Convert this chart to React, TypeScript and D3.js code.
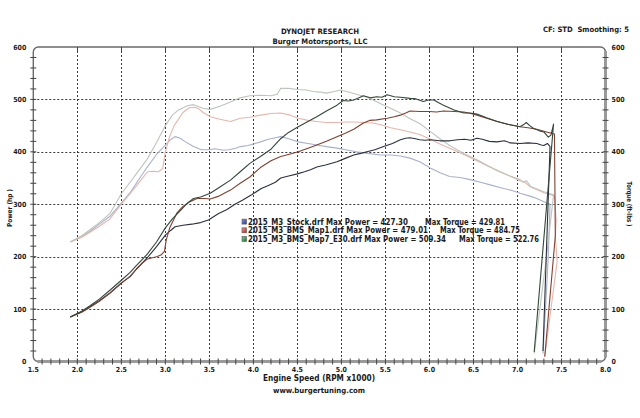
import React, { useEffect, useRef } from "react"
import * as d3 from "d3"

// rpm (x1000) and readings for each run
const stockPowerRpm = [1.92, 2.05, 2.14, 2.25, 2.37, 2.5, 2.6, 2.67, 2.79, 2.9, 3.0, 3.06, 3.11, 3.2, 3.3, 3.4, 3.49, 3.6, 3.7, 3.79, 3.88, 3.98, 4.09, 4.17, 4.25, 4.31, 4.4, 4.5, 4.58, 4.65, 4.72, 4.82, 4.95, 5.05, 5.14, 5.22, 5.29, 5.38, 5.48, 5.58, 5.67, 5.73, 5.78, 5.84, 5.89, 5.95, 6.01, 6.12, 6.23, 6.32, 6.4, 6.47, 6.54, 6.6, 6.68, 6.77, 6.85, 6.92, 7.03, 7.12, 7.22, 7.27, 7.3, 7.34, 7.37, 7.29]
const stockPower = [85, 95, 104, 116, 131, 150, 162, 176, 197, 219, 241, 250, 257, 260, 262, 265, 270, 282, 290, 300, 308, 318, 330, 336, 342, 350, 354, 358, 362, 366, 371, 375, 381, 388, 394, 397, 400, 404, 410, 416, 423, 426, 427, 425, 423, 422, 423, 421, 421, 423, 424, 422, 426, 424, 420, 419, 421, 417, 416, 417, 416, 413, 412, 416, 410, 20]

const map1PowerRpm = [1.92, 2.05, 2.14, 2.25, 2.37, 2.5, 2.6, 2.67, 2.74, 2.79, 2.83, 2.9, 2.95, 2.99, 3.01, 3.05, 3.13, 3.2, 3.28, 3.36, 3.45, 3.51, 3.6, 3.68, 3.74, 3.85, 3.96, 4.08, 4.2, 4.31, 4.42, 4.51, 4.62, 4.72, 4.83, 4.95, 5.05, 5.14, 5.25, 5.32, 5.4, 5.52, 5.6, 5.67, 5.73, 5.78, 5.89, 6.0, 6.08, 6.16, 6.28, 6.39, 6.47, 6.54, 6.65, 6.77, 6.9, 7.03, 7.12, 7.22, 7.33, 7.42, 7.43, 7.31]
const map1Power = [85, 94, 103, 115, 130, 149, 163, 176, 188, 195, 197, 200, 203, 210, 232, 255, 283, 296, 305, 311, 311, 310, 315, 322, 327, 340, 352, 370, 383, 391, 396, 400, 407, 413, 420, 429, 436, 443, 455, 460, 461, 464, 467, 470, 474, 478, 477, 477, 476, 478, 477, 476, 473, 470, 464, 458, 452, 448, 446, 443, 438, 434, 240, 9]

const e30PowerRpm = [1.92, 2.05, 2.14, 2.25, 2.37, 2.5, 2.6, 2.67, 2.79, 2.9, 3.0, 3.08, 3.17, 3.25, 3.32, 3.4, 3.51, 3.62, 3.74, 3.85, 3.96, 4.08, 4.2, 4.31, 4.4, 4.51, 4.62, 4.72, 4.83, 4.95, 5.02, 5.08, 5.14, 5.2, 5.25, 5.33, 5.4, 5.46, 5.52, 5.6, 5.67, 5.78, 5.85, 5.93, 5.99, 6.05, 6.1, 6.16, 6.28, 6.39, 6.46, 6.54, 6.65, 6.77, 6.9, 7.03, 7.07, 7.1, 7.14, 7.18, 7.25, 7.3, 7.35, 7.38, 7.41, 7.19]
const e30Power = [85, 96, 106, 119, 136, 155, 170, 183, 204, 228, 255, 272, 288, 302, 311, 314, 321, 333, 346, 362, 378, 391, 405, 425, 437, 448, 458, 467, 478, 489, 498, 497, 499, 503, 507, 503, 505, 504, 509, 505, 504, 502, 501, 496, 499, 499, 494, 489, 480, 474, 474, 472, 465, 458, 452, 448, 452, 456, 450, 445, 440, 438, 428, 432, 453, 18]

const stockTorqueRpm = [1.92, 2.05, 2.14, 2.25, 2.37, 2.5, 2.6, 2.67, 2.79, 2.9, 3.0, 3.05, 3.11, 3.17, 3.22, 3.32, 3.41, 3.5, 3.56, 3.66, 3.72, 3.8, 3.85, 3.94, 4.02, 4.08, 4.17, 4.25, 4.31, 4.4, 4.51, 4.62, 4.72, 4.83, 4.95, 5.05, 5.17, 5.3, 5.44, 5.56, 5.67, 5.78, 5.89, 6.01, 6.12, 6.23, 6.35, 6.46, 6.58, 6.69, 6.8, 6.92, 7.03, 7.15, 7.22, 7.3, 7.37, 7.35, 7.29]
const stockTorque = [228, 238, 248, 262, 277, 302, 322, 340, 370, 395, 413, 422, 429, 426, 420, 410, 404, 404, 406, 403, 404, 407, 410, 412, 416, 419, 424, 427, 429, 425, 419, 416, 413, 410, 407, 404, 400, 397, 394, 394, 392, 388, 381, 369, 360, 353, 351, 347, 342, 337, 332, 327, 321, 315, 311, 305, 300, 200, 15]

const map1TorqueRpm = [1.92, 2.05, 2.14, 2.25, 2.37, 2.5, 2.6, 2.67, 2.74, 2.77, 2.8, 2.86, 2.92, 2.97, 3.0, 3.05, 3.1, 3.2, 3.27, 3.33, 3.38, 3.43, 3.51, 3.62, 3.74, 3.85, 3.96, 4.08, 4.2, 4.31, 4.42, 4.51, 4.62, 4.72, 4.83, 4.95, 5.05, 5.15, 5.25, 5.35, 5.44, 5.56, 5.67, 5.78, 5.89, 6.0, 6.12, 6.23, 6.39, 6.54, 6.65, 6.77, 6.9, 7.03, 7.09, 7.15, 7.3, 7.42, 7.44, 7.43, 7.45, 7.31]
const map1Torque = [228, 237, 246, 258, 272, 300, 320, 335, 350, 356, 362, 363, 362, 368, 400, 430, 450, 475, 484, 485, 482, 475, 467, 462, 458, 464, 466, 470, 473, 474, 470, 464, 460, 458, 456, 456, 457, 457, 456, 455, 452, 446, 442, 438, 433, 425, 415, 407, 395, 383, 374, 364, 355, 345, 341, 333, 322, 316, 270, 240, 190, 10]

const e30TorqueRpm = [1.92, 2.05, 2.14, 2.25, 2.37, 2.5, 2.6, 2.67, 2.79, 2.9, 3.0, 3.08, 3.15, 3.25, 3.32, 3.38, 3.43, 3.51, 3.62, 3.74, 3.85, 3.96, 4.08, 4.2, 4.27, 4.31, 4.4, 4.5, 4.6, 4.68, 4.76, 4.83, 4.92, 4.99, 5.08, 5.17, 5.27, 5.36, 5.44, 5.52, 5.6, 5.67, 5.78, 5.89, 6.0, 6.12, 6.23, 6.39, 6.54, 6.67, 6.77, 6.9, 7.03, 7.07, 7.1, 7.15, 7.3, 7.41, 7.33, 7.19]
const e30Torque = [228, 240, 251, 265, 282, 320, 342, 358, 385, 418, 450, 470, 480, 488, 490, 486, 483, 481, 487, 495, 503, 507, 508, 507, 510, 521, 521, 519, 518, 515, 514, 512, 515, 518, 514, 510, 505, 499, 492, 486, 480, 474, 463, 454, 440, 425, 412, 397, 385, 373, 365, 355, 347, 342, 345, 334, 324, 318, 200, 15]

const runNames = ["2015_M3_Stock.drf", "2015_M3_BMS_Map1.drf", "2015_M3_BMS_Map7_E30.drf"]
const maxPower = ["427.30", "479.01", "509.34"]
const maxTorque = ["429.81", "484.75", "522.76"]

const rpmTicks = [1.5, 2.0, 2.5, 3.0, 3.5, 4.0, 4.5, 5.0, 5.5, 6.0, 6.5, 7.0, 7.5, 8.0]
const valueTicks = [0, 100, 200, 300, 400, 500, 600]

const W = 640
const H = 418
const FONT = "'DejaVu Sans Condensed', 'DejaVu Sans', sans-serif"

export default function App() {
  const ref = useRef<SVGSVGElement>(null)

  useEffect(() => {
    const svg = d3.select(ref.current)
    svg.selectAll("*").remove()

    const x = d3.scaleLinear().domain([1.5, 8.0]).range([33.3, 605.5])
    const y = d3.scaleLinear().domain([0, 600]).range([361.5, 47])
    const left = x(1.5), right = x(8.0), top = y(600), bottom = y(0)

    const defs = svg.append("defs")
    const swatchColors = [["#8d9ae0", "#27349a"], ["#f29a8e", "#b82222"], ["#7fcf8e", "#137433"]]
    swatchColors.forEach((c, i) => {
      const g = defs.append("linearGradient").attr("id", `sw${i}`).attr("x1", 0).attr("y1", 0).attr("x2", 1).attr("y2", 1)
      g.append("stop").attr("offset", "0%").attr("stop-color", c[0])
      g.append("stop").attr("offset", "100%").attr("stop-color", c[1])
    })

    // grid
    const grid = svg.append("g").attr("stroke", "#3a3a3a").attr("stroke-width", 1).attr("stroke-dasharray", "2,2")
    grid.selectAll("line.v").data(rpmTicks.slice(1, -1)).join("line").attr("class", "v")
      .attr("x1", d => Math.round(x(d)) + 0.5).attr("x2", d => Math.round(x(d)) + 0.5)
      .attr("y1", top).attr("y2", bottom)
    grid.selectAll("line.h").data(valueTicks.slice(1, -1)).join("line").attr("class", "h")
      .attr("x1", left).attr("x2", right)
      .attr("y1", d => Math.round(y(d)) + 0.5).attr("y2", d => Math.round(y(d)) + 0.5)

    // frame
    svg.append("rect").attr("x", left).attr("y", top).attr("width", right - left).attr("height", bottom - top)
      .attr("rx", 5).attr("fill", "none").attr("stroke", "#6a6a6a").attr("stroke-width", 1.4)
    svg.append("line").attr("x1", left + 4).attr("x2", right - 4).attr("y1", bottom).attr("y2", bottom)
      .attr("stroke", "#9a9a9a").attr("stroke-width", 3)
    svg.append("line").attr("x1", right).attr("x2", right).attr("y1", top + 4).attr("y2", bottom - 4)
      .attr("stroke", "#9a9a9a").attr("stroke-width", 3)

    // minor ticks
    const ticks = svg.append("g").attr("stroke", "#444").attr("stroke-width", 1)
    const minorV = d3.range(20, 600, 20)
    ticks.selectAll("line.l").data(minorV).join("line").attr("class", "l")
      .attr("x1", left - 3).attr("x2", left + 3).attr("y1", d => y(d)).attr("y2", d => y(d))
    ticks.selectAll("line.r").data(minorV).join("line").attr("class", "r")
      .attr("x1", right - 3).attr("x2", right + 3).attr("y1", d => y(d)).attr("y2", d => y(d))
    const minorX = d3.range(16, 80).map(d => d / 10)
    ticks.selectAll("line.b").data(minorX).join("line").attr("class", "b")
      .attr("x1", d => x(d)).attr("x2", d => x(d)).attr("y1", bottom - 3).attr("y2", bottom + 3)
    ticks.selectAll("line.t").data(rpmTicks.slice(1, -1)).join("line").attr("class", "t")
      .attr("x1", d => Math.round(x(d)) + 0.5).attr("x2", d => Math.round(x(d)) + 0.5).attr("y1", top).attr("y2", top + 4)

    // curves
    const line = d3.line<[number, number]>().x(d => x(d[0])).y(d => y(d[1]))
    const curves: [number[], number[], string][] = [
      [stockTorqueRpm, stockTorque, "#a9b0cb"],
      [map1TorqueRpm, map1Torque, "#e6b6ac"],
      [e30TorqueRpm, e30Torque, "#bcc5bc"],
      [stockPowerRpm, stockPower, "#2c303e"],
      [map1PowerRpm, map1Power, "#80402f"],
      [e30PowerRpm, e30Power, "#33473a"],
    ]
    svg.append("g").selectAll("path").data(curves).join("path")
      .attr("d", d => line(d3.zip(d[0], d[1]) as [number, number][]))
      .attr("fill", "none").attr("stroke", d => d[2]).attr("stroke-width", 1.1)
      .attr("stroke-linejoin", "round")

    // text
    const txt = svg.append("g").attr("font-family", FONT).attr("font-weight", "bold").attr("fill", "#1a1a1a")
    const fit = (sel: any, len: number) => sel.attr("textLength", len).attr("lengthAdjust", "spacingAndGlyphs")
    fit(txt.append("text").attr("x", 320).attr("y", 33.5).attr("text-anchor", "middle").attr("font-size", 7.4).text("DYNOJET RESEARCH"), 78)
    fit(txt.append("text").attr("x", 320).attr("y", 44).attr("text-anchor", "middle").attr("font-size", 7.4).text("Burger Motorsports, LLC"), 95)
    fit(txt.append("text").attr("x", 543).attr("y", 32).attr("font-size", 7.4)
      .attr("xml:space", "preserve").text("CF: STD  Smoothing: 5"), 86)

    txt.selectAll("text.yl").data(valueTicks).join("text").attr("class", "yl")
      .attr("x", left - 7).attr("y", d => y(d) + 2.5).attr("text-anchor", "end").attr("font-size", 7).text(d => d)
    txt.selectAll("text.yr").data(valueTicks).join("text").attr("class", "yr")
      .attr("x", right + 6).attr("y", d => y(d) + 2.5).attr("font-size", 7).text(d => d)
    txt.selectAll("text.xl").data(rpmTicks).join("text").attr("class", "xl")
      .attr("x", d => x(d)).attr("y", 372).attr("text-anchor", "middle").attr("font-size", 7).text(d => d.toFixed(1))

    fit(txt.append("text").attr("x", 319).attr("y", 380.5).attr("text-anchor", "middle").attr("font-size", 8).text("Engine Speed (RPM x1000)"), 112)
    fit(txt.append("text").attr("x", 319).attr("y", 393).attr("text-anchor", "middle").attr("font-size", 7.4).text("www.burgertuning.com"), 92)
    fit(txt.append("text").attr("transform", "translate(12,208) rotate(-90)").attr("text-anchor", "middle").attr("font-size", 6.8)
      .attr("xml:space", "preserve").text("Power (hp )"), 38)
    fit(txt.append("text").attr("transform", "translate(627,204) rotate(90)").attr("text-anchor", "middle").attr("font-size", 6.8)
      .attr("xml:space", "preserve").text("Torque (ft-lbs )"), 45)

    // legend
    const powerLen = [160, 180, 198]
    const torqueX = [425, 440, 459]
    const lg = svg.append("g").attr("font-family", FONT).attr("font-weight", "bold").attr("fill", "#1a1a1a").attr("font-size", 8.2)
    runNames.forEach((name, i) => {
      const cy = 221.7 + i * 8.7
      lg.append("rect").attr("x", 242).attr("y", cy - 2.6).attr("width", 4.5).attr("height", 5)
        .attr("fill", `url(#sw${i})`).attr("stroke", "#555").attr("stroke-width", 0.6)
      fit(lg.append("text").attr("x", 248).attr("y", cy + 3).text(`${name} Max Power = ${maxPower[i]}`), powerLen[i])
      fit(lg.append("text").attr("x", torqueX[i]).attr("y", cy + 3).text(`Max Torque = ${maxTorque[i]}`), 80)
    })
  }, [])

  return (
    <svg ref={ref} width={W} height={H} style={{ position: "absolute", left: 0, top: 0, background: "#fff" }} />
  )
}
